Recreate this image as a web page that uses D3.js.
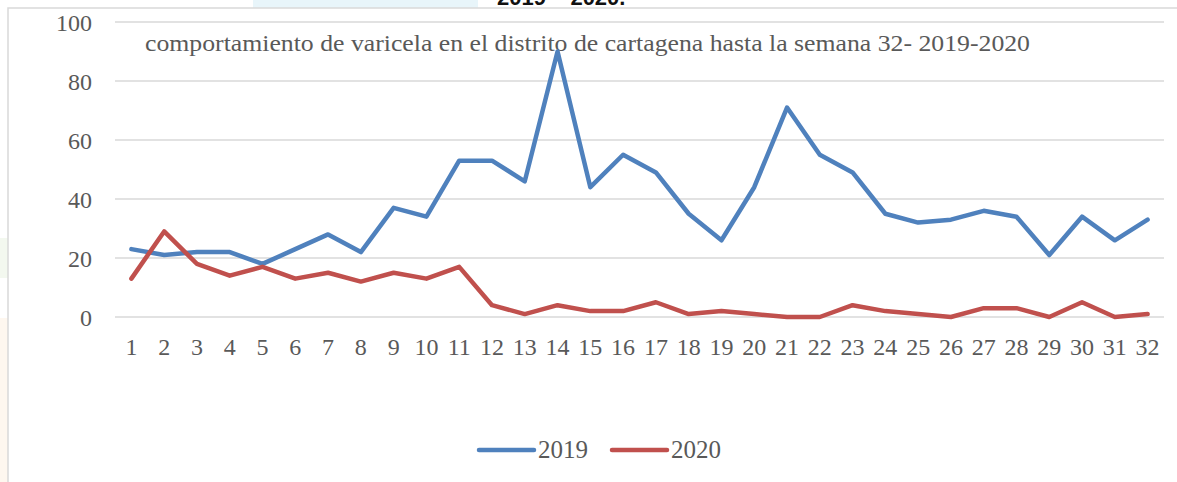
<!DOCTYPE html>
<html>
<head>
<meta charset="utf-8">
<script src="https://cdn.jsdelivr.net/npm/d3@7"></script>
<style>
  body { margin: 0; background: #fff; }
  svg text { font-family: "Liberation Serif", "DejaVu Serif", serif; fill: #595959; }
</style>
</head>
<body>
<svg></svg>
<script>
//data
var weeks = d3.range(1, 33).map(String);
var cases2019 = [23, 21, 22, 22, 18, 23, 28, 22, 37, 34, 53, 53, 46, 90, 44, 55,
                 49, 35, 26, 44, 71, 55, 49, 35, 32, 33, 36, 34, 21, 34, 26, 33];
var cases2020 = [13, 29, 18, 14, 17, 13, 15, 12, 15, 13, 17, 4, 1, 4, 2, 2,
                 5, 1, 2, 1, 0, 0, 4, 2, 1, 0, 3, 3, 0, 5, 0, 1];
var yTicks = [0, 20, 40, 60, 80, 100];
var seriesNames = ["2019", "2020"];
var seriesColors = ["#4F81BD", "#C0504D"];
var chartTitle = "comportamiento de varicela en el distrito de cartagena hasta la semana 32- 2019-2020";

var svgWidth = 1177;
var svgHeight = 482;
var svg = d3.select("svg")
            .attr("width", svgWidth)
            .attr("height", svgHeight);

//background bits of the page behind the chart
svg.append("rect").attr("x", 253).attr("y", 0).attr("width", 225).attr("height", 8).style("fill", "#E8F5FA");
svg.append("rect").attr("x", 0).attr("y", 238).attr("width", 8).attr("height", 40).style("fill", "#F3F8EF");
svg.append("rect").attr("x", 0).attr("y", 318).attr("width", 8).attr("height", 164).style("fill", "#FEF7EF");
svg.append("text")
   .attr("x", 497).attr("y", 5)
   .style("font-family", "'Liberation Sans', Arial, sans-serif")
   .style("font-weight", "bold").style("font-size", "22px").style("fill", "#111")
   .text("2019 \u2013 2020.");

//chart area
svg.append("rect")
   .attr("x", 8).attr("y", 8)
   .attr("width", svgWidth).attr("height", svgHeight)
   .style("fill", "#fff")
   .style("stroke", "#D9D9D9").style("stroke-width", 1.5);

var x = d3.scaleBand().domain(weeks).range([115, 1164]);
var y = d3.scaleLinear().domain([0, 100]).range([317, 22]);

//gridlines
svg.selectAll(".grid")
   .data(yTicks)
   .enter()
   .append("line")
   .attr("class", "grid")
   .attr("x1", 115).attr("x2", 1164)
   .attr("y1", function(d){ return y(d); })
   .attr("y2", function(d){ return y(d); })
   .style("stroke", "#D9D9D9").style("stroke-width", 1.5);

//y axis labels
var yAxis = d3.axisLeft(y).tickValues(yTicks).tickSize(0).tickPadding(0);
var yG = svg.append("g").attr("transform", "translate(92,0)").call(yAxis);
yG.select(".domain").remove();
yG.selectAll("text").style("font-size", "24px").attr("dy", "0.34em").style("fill", "#595959");

//x axis labels
var xAxis = d3.axisBottom(x).tickSize(0).tickPadding(0);
var xG = svg.append("g").attr("transform", "translate(0,355)").call(xAxis);
xG.select(".domain").remove();
xG.selectAll("text").attr("dy", 0).style("font-size", "24px").style("fill", "#595959");

//title
svg.append("text")
   .attr("x", 145).attr("y", 51)
   .attr("textLength", 885)
   .attr("lengthAdjust", "spacingAndGlyphs")
   .style("font-size", "23px")
   .text(chartTitle);

//lines
var line = d3.line()
             .x(function(d, i){ return x(weeks[i]) + x.bandwidth() / 2; })
             .y(function(d){ return y(d); });

var allSeries = [cases2019, cases2020];
svg.selectAll(".series")
   .data(allSeries)
   .enter()
   .append("path")
   .attr("class", "series")
   .attr("d", line)
   .style("fill", "none")
   .style("stroke", function(d, i){ return seriesColors[i]; })
   .style("stroke-width", 4.5)
   .style("stroke-linejoin", "round")
   .style("stroke-linecap", "round");

//legend
var legendX = [479, 612];
var legend = svg.selectAll(".legend")
                .data(seriesNames)
                .enter()
                .append("g")
                .attr("class", "legend")
                .attr("transform", function(d, i){ return "translate(" + legendX[i] + ",450)"; });
legend.append("line")
      .attr("x1", 0).attr("x2", 55)
      .style("stroke", function(d, i){ return seriesColors[i]; })
      .style("stroke-width", 4.5)
      .style("stroke-linecap", "round");
legend.append("text")
      .attr("x", 59).attr("y", 8)
      .style("font-size", "25px")
      .text(function(d){ return d; });
</script>
</body>
</html>
